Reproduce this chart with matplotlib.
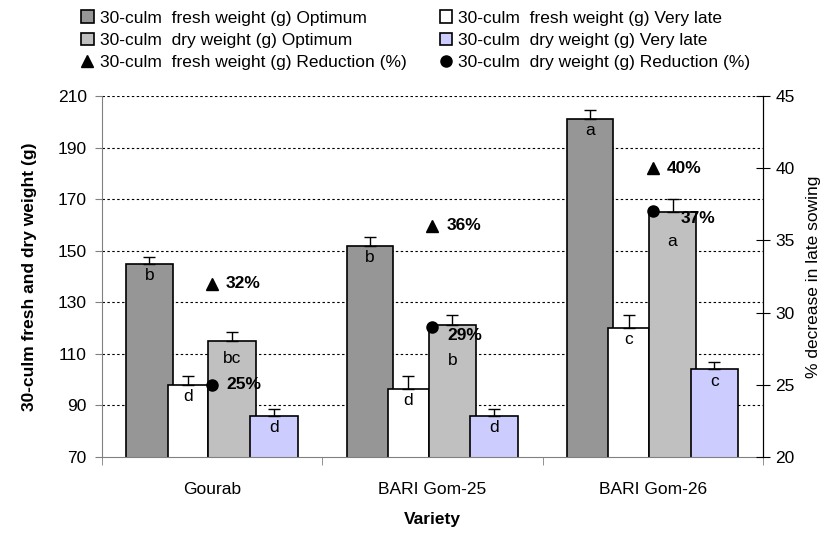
import numpy as np
import matplotlib.pyplot as plt

plt.rcParams['font.family'] = ['Liberation Sans', 'DejaVu Sans']

varieties = ['Gourab', 'BARI Gom-25', 'BARI Gom-26']

fresh_opt = [145, 152, 201]
fresh_late = [98, 96.5, 120]
dry_opt = [115, 121, 165]
dry_late = [86, 86, 104]

fresh_opt_err = [2.6, 3.3, 3.6]
fresh_late_err = [3.5, 4.8, 5.0]
dry_opt_err = [3.5, 4.0, 5.0]
dry_late_err = [2.5, 2.5, 3.0]

fresh_opt_let = ['b', 'b', 'a']
fresh_late_let = ['d', 'd', 'c']
dry_opt_let = ['bc', 'b', 'a']
dry_late_let = ['d', 'd', 'c']

fresh_red = [32, 36, 40]
dry_red = [25, 29, 37]

x = np.arange(len(varieties))
fs = 12.5

fig = plt.figure(figsize=(8.32, 5.45), dpi=100)
ax = fig.add_axes([0.1226, 0.1615, 0.7944, 0.6624])
ax2 = ax.twinx()

series = [
    (fresh_opt, fresh_opt_err, fresh_opt_let, '#969696', -0.285, 0.21, '30-culm  fresh weight (g) Optimum'),
    (fresh_late, fresh_late_err, fresh_late_let, '#FFFFFF', -0.11, 0.185, '30-culm  fresh weight (g) Very late'),
    (dry_opt, dry_opt_err, dry_opt_let, '#C0C0C0', 0.09, 0.215, '30-culm  dry weight (g) Optimum'),
    (dry_late, dry_late_err, dry_late_let, '#CCCCFF', 0.28, 0.215, '30-culm  dry weight (g) Very late'),
]

handles = {}
for k, (vals, err, lets, col, off, w, lab) in enumerate(series):
    pos = x + off
    b = ax.bar(pos, vals, w, color=col, edgecolor='black', linewidth=1.2, label=lab, zorder=2)
    ax.errorbar(pos, vals, yerr=[np.zeros(len(vals)), err], fmt='none', ecolor='black',
                elinewidth=1, capsize=4, capthick=1, zorder=3)
    # letters of the light grey bars were pushed down to clear the % labels
    drops = [13, 25, 21] if k == 2 else [8.5, 8.5, 8.5]
    for p, v, t, d in zip(pos, vals, lets, drops):
        ax.annotate(t, (p, v), xytext=(0, -d), textcoords='offset points',
                    ha='center', va='center', fontsize=fs, zorder=4)
    handles[lab] = b

ax.set_ylim(70, 210)
ax.set_yticks(range(70, 211, 20))
ax.set_xlim(-0.5, 2.5)
for yv in range(90, 211, 20):
    ax.axhline(yv, color='black', linestyle=(0, (2.2, 2.2)), linewidth=0.8, zorder=1)

ax.set_xticks(x)
ax.set_xticklabels(varieties)
ax.tick_params(axis='x', which='major', length=0, pad=18, labelsize=fs)
ax.set_xticks([-0.5, 0.5, 1.5, 2.5], minor=True)
ax.tick_params(axis='x', which='minor', length=6, color='#808080')
ax.tick_params(axis='y', length=5, pad=6, color='#808080', labelsize=fs)

ax.spines['top'].set_visible(False)
ax2.spines['top'].set_visible(False)
ax.spines['left'].set_color('#808080')
ax.spines['bottom'].set_color('#808080')
ax2.spines['left'].set_visible(False)
ax2.spines['bottom'].set_visible(False)
ax2.spines['right'].set_color('black')

ax.set_ylabel('30-culm fresh and dry weight (g)', fontsize=fs, fontweight='bold', labelpad=15)
ax.set_xlabel('Variety', fontsize=fs, fontweight='bold', labelpad=11)

tri, = ax2.plot(x, fresh_red, linestyle='none', marker='^', color='black', markersize=8.5,
                label='30-culm  fresh weight (g) Reduction (%)')
cir, = ax2.plot(x, dry_red, linestyle='none', marker='o', color='black', markersize=8,
                label='30-culm  dry weight (g) Reduction (%)')
for xi, v in zip(x, fresh_red):
    ax2.annotate(f'{v}%', (xi, v), xytext=(10, 0), textcoords='offset points',
                 ha='left', va='center', fontsize=fs, fontweight='bold')
nudges = [(10, 0), (11, -6), (20, -5)]
for xi, v, (dx, dy) in zip(x, dry_red, nudges):
    ax2.annotate(f'{v}%', (xi, v), xytext=(dx, dy), textcoords='offset points',
                 ha='left', va='center', fontsize=fs, fontweight='bold')

ax2.set_ylim(20, 45)
ax2.set_yticks(range(20, 46, 5))
ax2.tick_params(axis='y', direction='inout', length=10, pad=4, labelsize=fs)
ax2.set_ylabel('% decrease in late sowing', fontsize=fs, labelpad=8)

labs = [s[6] for s in series]
order = [handles[labs[0]], handles[labs[2]], tri, handles[labs[1]], handles[labs[3]], cir]
names = [labs[0], labs[2], tri.get_label(), labs[1], labs[3], cir.get_label()]
fig.legend(order, names, loc='upper center', bbox_to_anchor=(0.5, 1.0), ncol=2,
           frameon=False, fontsize=fs, handlelength=0.7, handleheight=0.7,
           handletextpad=0.35, columnspacing=1.95, labelspacing=0.42, borderaxespad=0.2)

fig.savefig('out.png', dpi=100)
